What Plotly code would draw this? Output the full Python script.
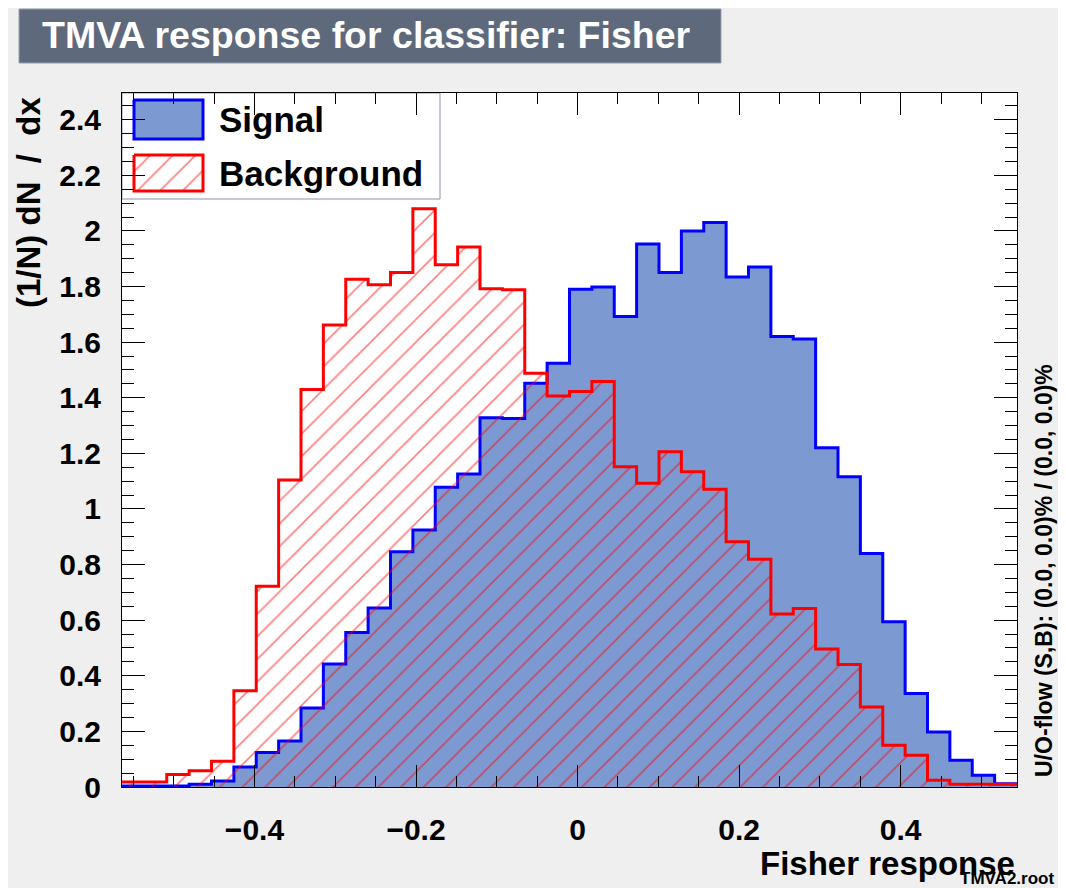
import numpy as np
import plotly.graph_objects as go

# ---- histogram definition & values ----
X_MIN, X_MAX, N_BINS = -0.564, 0.544, 40
Y_MAX = 2.496

signal = [0.004, 0.004, 0.004, 0.010, 0.022, 0.072, 0.124, 0.165, 0.284, 0.442,
          0.556, 0.644, 0.846, 0.924, 1.078, 1.126, 1.328, 1.325, 1.452, 1.524,
          1.790, 1.798, 1.692, 1.953, 1.850, 2.000, 2.030, 1.834, 1.870, 1.620,
          1.611, 1.220, 1.116, 0.840, 0.594, 0.336, 0.198, 0.096, 0.042, 0.012]

background = [0.018, 0.018, 0.045, 0.058, 0.093, 0.346, 0.722, 1.104, 1.430, 1.662,
              1.826, 1.806, 1.850, 2.080, 1.878, 1.942, 1.792, 1.788, 1.488, 1.406,
              1.422, 1.458, 1.152, 1.092, 1.206, 1.134, 1.071, 0.882, 0.819, 0.622,
              0.642, 0.496, 0.441, 0.288, 0.150, 0.114, 0.024, 0.010, 0.010, 0.010]

TITLE = "TMVA response for classifier: Fisher"
X_TITLE = "Fisher response"
Y_TITLE = "(1/N) dN  /  dx"
FLOW_TEXT = "U/O-flow (S,B): (0.0, 0.0)% / (0.0, 0.0)%"
FILE_TEXT = "TMVA2.root"

# ---- layout geometry (page body has an 8px margin) ----
OFF = 8
W, H = 1066 - OFF, 888 - OFF
PL, PT, PR, PB = 122, 93, 1017, 787          # plot area in window pixels
ML, MT = PL - OFF, PT - OFF
PW, PH = PR - PL, PB - PT
MR, MB = W - ML - PW, H - MT - PH
FONT = "Liberation Sans"


def px(x):
    return (x - PL) / PW


def py(y):
    return (PB - y) / PH


SIG_FILL = "#7d99d1"
edges = np.linspace(X_MIN, X_MAX, N_BINS + 1)

fig = go.Figure()

fig.add_trace(go.Scatter(
    x=edges, y=signal + [signal[-1]], mode="lines",
    line=dict(color="#0000ff", width=3, shape="hv"),
    fill="tozeroy", fillcolor=SIG_FILL, showlegend=False, hoverinfo="skip"))

hatch = dict(shape="/", fgcolor="#ff0000", bgcolor="rgba(0,0,0,0)",
             size=16, solidity=0.1, fillmode="overlay")

fig.add_trace(go.Scatter(
    x=edges, y=background + [background[-1]], mode="lines",
    line=dict(color="#ff0000", width=3, shape="hv"),
    fill="tozeroy", fillcolor="rgba(0,0,0,0)", fillpattern=hatch,
    showlegend=False, hoverinfo="skip"))

# ---- hand-built legend (on an overlay axis in plot-fraction units) ----
def rect(x0, y0, x1, y1):
    return [px(x0), px(x1), px(x1), px(x0), px(x0)], [py(y0), py(y0), py(y1), py(y1), py(y0)]

sx, sy = rect(134, 100, 203, 139)
fig.add_trace(go.Scatter(x=sx, y=sy, mode="lines", fill="toself", fillcolor=SIG_FILL,
                         line=dict(color="#0000ff", width=3), xaxis="x2", yaxis="y2",
                         showlegend=False, hoverinfo="skip"))
bx, by = rect(134, 155, 203, 191)
fig.add_trace(go.Scatter(x=bx, y=by, mode="lines", fill="toself", fillcolor="rgba(0,0,0,0)",
                         fillpattern=hatch, line=dict(color="#ff0000", width=3),
                         xaxis="x2", yaxis="y2", showlegend=False, hoverinfo="skip"))

axis_common = dict(
    ticks="inside", tickwidth=1, tickcolor="black",
    showline=True, linecolor="black", linewidth=1, mirror="allticks",
    showgrid=False, zeroline=False,
    tickfont=dict(family=FONT, size=30, color="black", weight="bold"),
)

fig.update_layout(
    width=W, height=H,
    margin=dict(l=ML, r=MR, t=MT, b=MB, pad=0),
    paper_bgcolor="#efefef", plot_bgcolor="white",
    showlegend=False,
    xaxis=dict(range=[X_MIN, X_MAX], tick0=0, dtick=0.2, ticklen=22,
               minor=dict(tick0=0, dtick=0.05, ticks="inside", ticklen=11,
                          tickcolor="black", tickwidth=1, showgrid=False),
               ticklabelstandoff=16, **axis_common),
    yaxis=dict(range=[0, Y_MAX], tick0=0, dtick=0.2, ticklen=23,
               minor=dict(tick0=0, dtick=0.05, ticks="inside", ticklen=12,
                          tickcolor="black", tickwidth=1, showgrid=False),
               ticklabelstandoff=14, **axis_common),
    xaxis2=dict(overlaying="x", range=[0, 1], visible=False, fixedrange=True),
    yaxis2=dict(overlaying="y", range=[0, 1], visible=False, fixedrange=True),
)

shapes = [
    # title box
    dict(type="rect", xref="paper", yref="paper",
         x0=px(19), x1=px(721), y0=py(63), y1=py(9),
         fillcolor="#5e6a7c", line=dict(color="#97a0ae", width=1), layer="above"),
    # legend box
    dict(type="rect", xref="paper", yref="paper",
         x0=px(122), x1=px(440), y0=py(199), y1=py(93),
         fillcolor="white", line=dict(color="#8a93a6", width=1), layer="below"),
]
fig.update_layout(shapes=shapes)

ann = [
    dict(text=TITLE, x=px(366), y=py(35), font=dict(family=FONT, size=37.5, color="white", weight="bold")),
    dict(text="Signal", x=px(217), y=py(119), xanchor="left",
         font=dict(family=FONT, size=35, color="black", weight="bold")),
    dict(text="Background", x=px(217), y=py(173), xanchor="left",
         font=dict(family=FONT, size=35, color="black", weight="bold")),
    dict(text=Y_TITLE, x=px(28), y=py(203), textangle=-90,
         font=dict(family=FONT, size=33, color="black", weight="bold")),
    dict(text=X_TITLE, x=px(1017), y=py(863), xanchor="right",
         font=dict(family=FONT, size=33, color="black", weight="bold")),
    dict(text=FILE_TEXT, x=px(1056), y=py(878), xanchor="right",
         font=dict(family=FONT, size=17, color="black", weight="bold")),
    dict(text=FLOW_TEXT, x=px(1044), y=py(571), textangle=-90,
         font=dict(family=FONT, size=23, color="black", weight="bold")),
]
for a in ann:
    a.setdefault("xanchor", "center")
    a.setdefault("yanchor", "middle")
    fig.add_annotation(xref="paper", yref="paper", showarrow=False, **a)

fig.write_html("out.html")
